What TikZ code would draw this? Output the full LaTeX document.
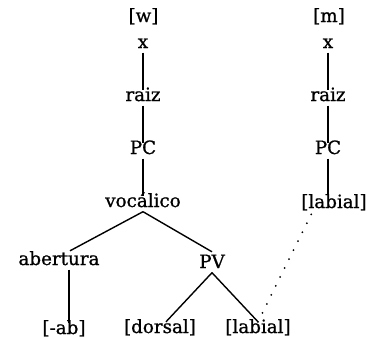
\documentclass[tikz,border=0pt]{standalone}
\usepackage{fontspec}
\setmainfont{DejaVu Serif}[BoldFont=DejaVu Serif,BoldFeatures={FakeBold=0.9}]
\begin{document}
\begin{tikzpicture}[x=1pt,y=-1pt,line width=1.4pt,
  every node/.style={anchor=base,inner sep=1.5pt,text height=0.9em,text depth=0.25em,
    font=\bfseries\fontsize{18.3}{22}\selectfont}]
  \useasboundingbox (0,0) rectangle (369,338);
  \node (w) at (143.5,22) {[w]};
  \node (x) at (143,48) {x};
  \node (raiz) at (143,101) {raiz};
  \node (pc) at (143,154) {PC};
  \node (voc) at (143,207) {vocálico};
  \node (abe) at (59,265) {abertura};
  \node (pv) at (212,268) {PV};
  \node (ab) at (64,334) {[-ab]};
  \node (dor) at (160,333) {[dorsal]};
  \node (lab) at (258,333) {[labial]};

  \node (m) at (329,22) {[m]};
  \node (x2) at (328,48) {x};
  \node (raiz2) at (328,101) {raiz};
  \node (pc2) at (328,154) {PC};
  \node (lab2) at (334,208) {[labial]};

  \draw (x) -- (raiz);
  \draw (raiz) -- (pc);
  \draw (pc) -- (voc);
  \draw (voc.south) -- ([xshift=11pt,yshift=3pt]abe.north);
  \draw (voc.south) -- ([yshift=5pt]pv.north);
  \draw ([xshift=10pt]abe.south) -- ([xshift=5pt]ab.north);
  \draw (pv.south) -- ([xshift=6pt]dor.north);
  \draw (pv.south) -- (lab.north);

  \draw (x2) -- (raiz2);
  \draw (raiz2) -- (pc2);
  \draw (pc2.south) -- ([yshift=3pt]pc2.south |- lab2.north);
  \draw[line width=2pt,line cap=round,dash pattern=on 0pt off 10pt] (lab.north) -- ([xshift=-21pt,yshift=2pt]lab2.south);
\end{tikzpicture}
\end{document}
